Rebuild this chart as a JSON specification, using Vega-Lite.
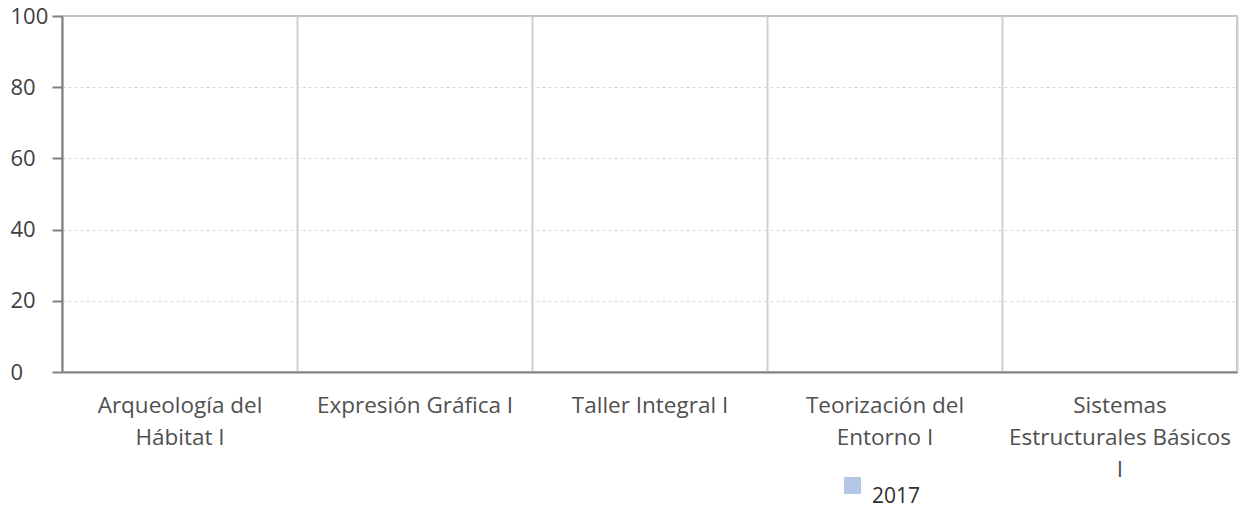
{
  "$schema": "https://vega.github.io/schema/vega-lite/v6.json",
  "width": 1175,
  "height": 356,
  "autosize": {"type": "none"},
  "padding": {"left": 62, "top": 16, "right": 6, "bottom": 136},
  "background": "white",
  "config": {
    "view": {"stroke": "#c4c4c4", "strokeWidth": 2},
    "font": "Open Sans"
  },
  "data": {
    "values": [
      {"materia": "Arqueología del Hábitat I", "anio": "2017", "valor": 0},
      {"materia": "Expresión Gráfica I", "anio": "2017", "valor": 0},
      {"materia": "Taller Integral I", "anio": "2017", "valor": 0},
      {"materia": "Teorización del Entorno I", "anio": "2017", "valor": 0},
      {"materia": "Sistemas Estructurales Básicos I", "anio": "2017", "valor": 0}
    ]
  },
  "mark": {"type": "bar"},
  "encoding": {
    "x": {
      "field": "materia",
      "type": "nominal",
      "sort": null,
      "scale": {"paddingInner": 0, "paddingOuter": 0},
      "axis": {
        "title": null,
        "labelAngle": 0,
        "tickBand": "extent",
        "grid": true,
        "gridColor": "#d0d0d0",
        "gridWidth": 2,
        "ticks": false,
        "domainColor": "#808080",
        "domainWidth": 2,
        "labelFont": "Open Sans",
        "labelFontSize": 22.5,
        "labelColor": "#505050",
        "labelPadding": 17,
        "labelBaseline": "line-top",
        "labelLineHeight": 32,
        "labelLimit": 300,
        "labelExpr": "datum.label == 'Arqueología del Hábitat I' ? ['Arqueología del', 'Hábitat I'] : datum.label == 'Teorización del Entorno I' ? ['Teorización del', 'Entorno I'] : datum.label == 'Sistemas Estructurales Básicos I' ? ['Sistemas', 'Estructurales Básicos', 'I'] : datum.label"
      }
    },
    "y": {
      "field": "valor",
      "type": "quantitative",
      "scale": {"domain": [0, 100]},
      "axis": {
        "title": null,
        "values": [0, 20, 40, 60, 80, 100],
        "tickSize": 10,
        "tickColor": "#808080",
        "tickWidth": 2,
        "domainColor": "#808080",
        "domainWidth": 2,
        "labelAlign": "left",
        "labelPadding": 42,
        "labelFont": "Open Sans",
        "labelFontSize": 22,
        "labelColor": "#404040",
        "grid": true,
        "gridDash": [3, 3],
        "gridColor": "#d8d8d8",
        "gridWidth": 1,
        "gridOpacity": {"expr": "datum.value == 0 || datum.value == 100 ? 0 : 1"}
      }
    },
    "color": {
      "field": "anio",
      "type": "nominal",
      "scale": {"range": ["#b4c7e7"]},
      "legend": {
        "title": null,
        "orient": "none",
        "legendX": 780,
        "legendY": 459,
        "symbolType": "square",
        "symbolSize": 289,
        "symbolStrokeWidth": 0,
        "labelFont": "Open Sans",
        "labelFontSize": 21,
        "labelColor": "#303030",
        "labelBaseline": "top",
        "labelOffset": 9
      }
    }
  }
}
